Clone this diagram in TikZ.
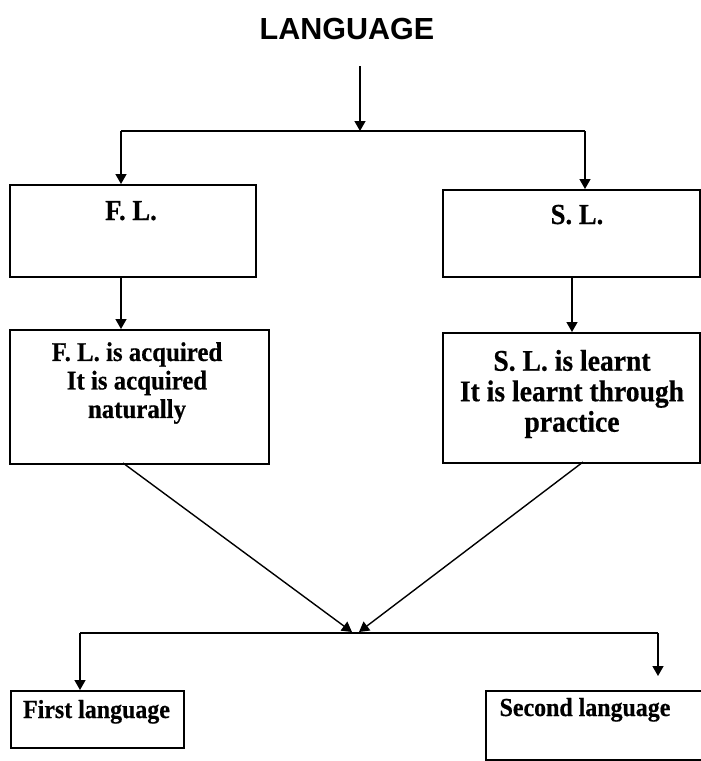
\documentclass[tikz,border=0pt]{standalone}
\usepackage{fontspec}
\setmainfont{Liberation Serif}
\newfontfamily\titlefont{Liberation Sans}
\newfontfamily\bx{Liberation Serif}[FakeStretch=0.92, BoldFeatures={FakeBold=0.5}]
\usetikzlibrary{arrows.meta}
\begin{document}
\begin{tikzpicture}[x=1pt,y=-1pt,
  box/.style={draw, line width=1.7pt, inner sep=0pt, anchor=north west},
  conn/.style={line width=1.4pt},
  arr/.style={conn, -{Triangle[width=11pt,length=10pt]}},
  lbl/.style={inner sep=0pt, font=\bx\bfseries\fontsize{27}{28.5}\selectfont, align=center},
  lblb/.style={inner sep=0pt, font=\bx\bfseries\fontsize{30}{30.5}\selectfont, align=center},
  lbls/.style={inner sep=0pt, font=\bx\bfseries\fontsize{26}{26}\selectfont},
  lblt/.style={inner sep=0pt, font=\bx\bfseries\fontsize{29}{30}\selectfont, anchor=base}
]
\useasboundingbox (0,0) rectangle (701,761);

% title
\node[inner sep=0pt, anchor=base, font=\titlefont\bfseries\fontsize{30.5}{32}\selectfont] (title) at (347,39) {LANGUAGE};

% boxes
\node[box, minimum width=246pt, minimum height=92pt] (fl) at (9,184) {};
\node[box, minimum width=257pt, minimum height=87pt] (sl) at (442,189) {};
\node[box, minimum width=259pt, minimum height=134pt] (fla) at (9,329) {};
\node[box, minimum width=257pt, minimum height=130pt] (sla) at (442,332) {};
\node[box, minimum width=173pt, minimum height=57pt] (first) at (10,690) {};
\node[box, minimum width=222pt, minimum height=69pt] (second) at (485,690) {};

% texts
\node[lblt] (fltext) at (131,220) {F.\ L.};
\node[lblt] (sltext) at (577,224) {S.\ L.};
\node[lbl] (flatext) at (137,383) {F.\ L.\ is acquired\\It is acquired\\naturally};
\node[lblb] (slatext) at (572,394) {S.\ L.\ is learnt\\It is learnt through\\practice};
\node[lbls, anchor=base] (firsttext) at (96.5,718) {First language};
\node[lbls, anchor=base] (secondtext) at (585,716) {Second language};

% connector points
\coordinate (topstart) at (360,66);
\coordinate (split) at (360,131);
\coordinate (hl) at (121,131);
\coordinate (hr) at (585,131);
\coordinate (rc) at (572,0);
\coordinate (dl) at (123,463);
\coordinate (dr) at (583,462);
\coordinate (ml) at (352,632);
\coordinate (mr) at (359,632);
\coordinate (bl) at (80,633);
\coordinate (br) at (658,633);
\coordinate (brend) at (658,676);

% connectors
\draw[arr] (topstart) -- (split);
\draw[conn] (hl) -- (hr);
\draw[arr] (hl) -- (hl |- fl.north);
\draw[arr] (hr) -- (hr |- sl.north);
\draw[arr] (hl |- fl.south) -- (hl |- fla.north);
\draw[arr] (rc |- sl.south) -- (rc |- sla.north);
\draw[arr] (dl) -- (ml);
\draw[arr] (dr) -- (mr);
\draw[conn] (bl) -- (br);
\draw[arr] (bl) -- (bl |- first.north);
\draw[arr] (br) -- (brend);
\end{tikzpicture}
\end{document}
